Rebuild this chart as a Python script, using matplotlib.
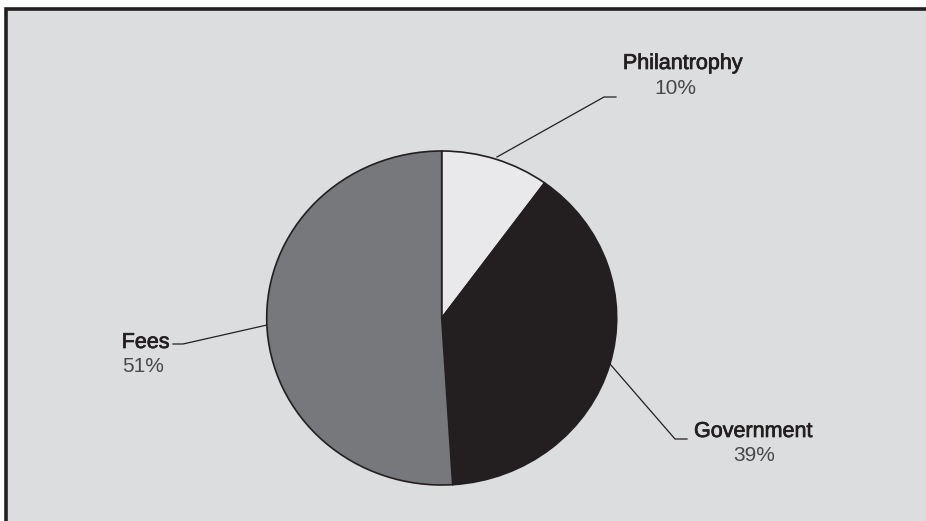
import matplotlib
matplotlib.use("Agg")
import matplotlib.pyplot as plt
import matplotlib.patheffects as pe
import numpy as np

categories = ["Philantrophy", "Government", "Fees"]
shares = [10, 39, 51]
pct_labels = ["10%", "39%", "51%"]
colors = ["#e9e9eb", "#231f20", "#77787b"]

W, H = 926, 521
fig = plt.figure(figsize=(W / 100, H / 100), dpi=100)
fig.patch.set_facecolor("white")

# background/frame axes in pixel coordinates
bg = fig.add_axes([0, 0, 1, 1])
bg.set_xlim(0, W)
bg.set_ylim(H, 0)
bg.axis("off")
bg.add_patch(plt.Rectangle((5.5, 8.5), W, H, facecolor="#dcdddf", edgecolor="none", zorder=0))
bg.plot([5.5, 5.5, W + 2], [H + 2, 8.5, 8.5], color="#231f20", lw=2.6, solid_joinstyle="miter", zorder=1)

# pie axes (slightly elliptical as in the reference)
cx, cy, rx, ry = 441.7, 318.0, 175.0, 167.0
pax = fig.add_axes([(cx - rx) / W, (H - cy - ry) / H, 2 * rx / W, 2 * ry / H])
wedges, _ = pax.pie(shares, colors=colors, startangle=90, counterclock=False,
                    wedgeprops=dict(edgecolor="#231f20", linewidth=1.2))
pax.set_aspect("auto")
pax.set_xlim(-1, 1)
pax.set_ylim(-1, 1)
pax.axis("off")

# labels with leader lines (pixel coordinates)
label_specs = {
    "Philantrophy": dict(line=[(497, 157), (604, 97), (616, 97)], name_xy=(682.5, 69), pct_xy=(675.5, 94)),
    "Government": dict(line=[(610, 364), (675, 439), (687, 439)], name_xy=(753, 437), pct_xy=(754, 461)),
    "Fees": dict(line=[(267, 325), (183, 344), (173, 344)], name_xy=(145.5, 348), pct_xy=(143.5, 372)),
}
for cat, pct in zip(categories, pct_labels):
    s = label_specs[cat]
    xs, ys = zip(*s["line"])
    bg.plot(xs, ys, color="#231f20", lw=0.9, zorder=3)
    bg.text(*s["name_xy"], cat, ha="center", va="baseline", fontsize=15.5,
            family="Liberation Sans", color="#231f20", zorder=4,
            path_effects=[pe.withStroke(linewidth=0.5, foreground="#231f20")])
    bg.text(*s["pct_xy"], pct, ha="center", va="baseline", fontsize=15,
            family="Liberation Sans", color="#48484a", zorder=4)

fig.savefig("out.png", dpi=100, facecolor="white")
